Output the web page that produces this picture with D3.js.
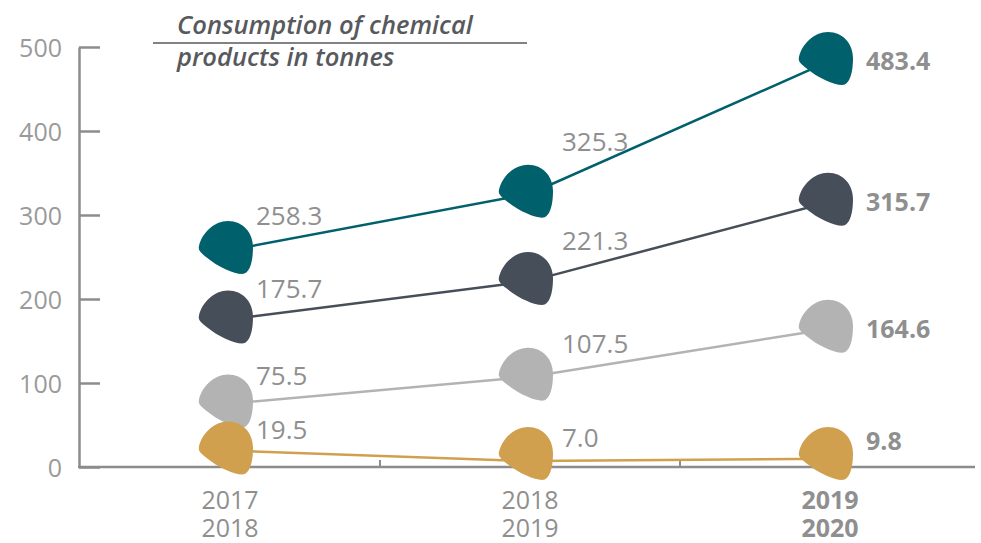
<!DOCTYPE html>
<html><head><meta charset="utf-8">
<script src="https://cdn.jsdelivr.net/npm/d3@7"></script>
<style>
html,body{margin:0;padding:0;background:#fff;}
svg{display:block;}
text{font-family:"Open Sans","Noto Sans",sans-serif;}
</style></head>
<body>
<svg id="chart" width="981" height="543"></svg>
<script>
const categories = ["2017/2018", "2018/2019", "2019/2020"];
const categoryLines = [["2017","2018"],["2018","2019"],["2019","2020"]];
const yTicks = [0, 100, 200, 300, 400, 500];
const seriesNames = ["s1", "s2", "s3", "s4"];
const seriesValues = [
  [258.3, 325.3, 483.4],
  [175.7, 221.3, 315.7],
  [75.5, 107.5, 164.6],
  [19.5, 7.0, 9.8]
];
const seriesColors = ["#00606b", "#464e59", "#b3b3b3", "#d1a04f"];
const titleLines = ["Consumption of chemical", "products in tonnes"];

const svg = d3.select("#chart");
const band = d3.scaleBand().domain(categories).range([80, 980]).padding(0);
const x = c => band(c) + band.bandwidth() / 2;
const y = d3.scaleLinear().domain([0, 500]).range([467, 47]);

const axisColor = "#8c8c8c";
const textGray = "#8f8f8f";

// Y axis
const yAxis = d3.axisLeft(y).tickValues(yTicks).tickSizeInner(-21).tickSizeOuter(0).tickPadding(17).tickFormat(d3.format("d"));
const gy = svg.append("g").attr("transform", "translate(79,0)").call(yAxis);
gy.selectAll("path,line").attr("stroke", axisColor).attr("stroke-width", 2.5);
gy.selectAll("text").attr("fill", "#9a9a9a").attr("font-size", 25).attr("dy", "0.38em")
  .style("font-family", '"Open Sans","Noto Sans",sans-serif');

// X axis baseline
svg.append("line").attr("x1", 78).attr("x2", 975).attr("y1", y(0)).attr("y2", y(0))
  .attr("stroke", axisColor).attr("stroke-width", 2.5);
categories.slice(1).forEach(c => {
  svg.append("line").attr("x1", band(c)).attr("x2", band(c))
    .attr("y1", y(0)).attr("y2", y(0) - 7)
    .attr("stroke", axisColor).attr("stroke-width", 2);
});

// Category labels (two separate lines)
categories.forEach((c, i) => {
  categoryLines[i].forEach((l, j) => {
    svg.append("text").attr("x", x(c)).attr("y", 500 + j * 28).attr("dy", "0.36em")
      .attr("text-anchor", "middle").attr("fill", textGray).attr("font-size", 25)
      .attr("font-weight", i === categories.length - 1 ? "bold" : "normal")
      .text(l);
  });
});

// Title
svg.append("text").attr("x", 177).attr("y", 34).attr("fill", "#58595d")
  .attr("font-size", 25.5).attr("font-style", "italic").attr("font-weight", 600)
  .text(titleLines[0]);
svg.append("text").attr("x", 177).attr("y", 66).attr("fill", "#58595d")
  .attr("font-size", 25.5).attr("font-style", "italic").attr("font-weight", 600)
  .text(titleLines[1]);
svg.append("line").attr("x1", 153).attr("x2", 527).attr("y1", 43).attr("y2", 43)
  .attr("stroke", "#58595d").attr("stroke-width", 1.5);

// Marker shape (relative to centre)
const markerPath = "M -27,-1 C -24,-14 -12,-26 2,-26 C 17,-26 27,-14 27,0 C 27,14 24,27 16,27 C 8,27 -8,20 -20,10 C -26,5 -28,3 -27,-1 Z";

const line = d3.line().x((d, i) => x(categories[i])).y(d => y(d));

seriesValues.forEach((vals, s) => {
  const g = svg.append("g");
  g.append("path").attr("d", line(vals)).attr("fill", "none")
    .attr("stroke", seriesColors[s]).attr("stroke-width", 2.5);
  vals.forEach((v, i) => {
    const cx = x(categories[i]) - 4;
    const cy = Math.min(y(v) - 3, y(0) - 14);
    g.append("path").attr("d", markerPath).attr("transform", `translate(${cx},${cy})`)
      .attr("fill", seriesColors[s]);
  });
});

// Value labels
seriesValues.forEach((vals, s) => {
  vals.forEach((v, i) => {
    const px = x(categories[i]);
    const label = d3.format(".1f")(v);
    if (i === vals.length - 1) {
      svg.append("text").attr("x", px + 36).attr("y", Math.min(y(v), y(0) - 26)).attr("dy", "0.36em")
        .attr("fill", textGray).attr("font-size", 25).attr("font-weight", "bold").text(label);
    } else {
      const lx = px + (i === 0 ? 26 : 32);
      const cxl = lx + 34;
      const t = (cxl - px) / (x(categories[i + 1]) - px);
      const lineY = y(v) + t * (y(vals[i + 1]) - y(v));
      svg.append("text").attr("x", lx).attr("y", lineY - 23).attr("dy", "0.36em")
        .attr("fill", textGray).attr("font-size", 26).text(label);
    }
  });
});
</script>
</body></html>
